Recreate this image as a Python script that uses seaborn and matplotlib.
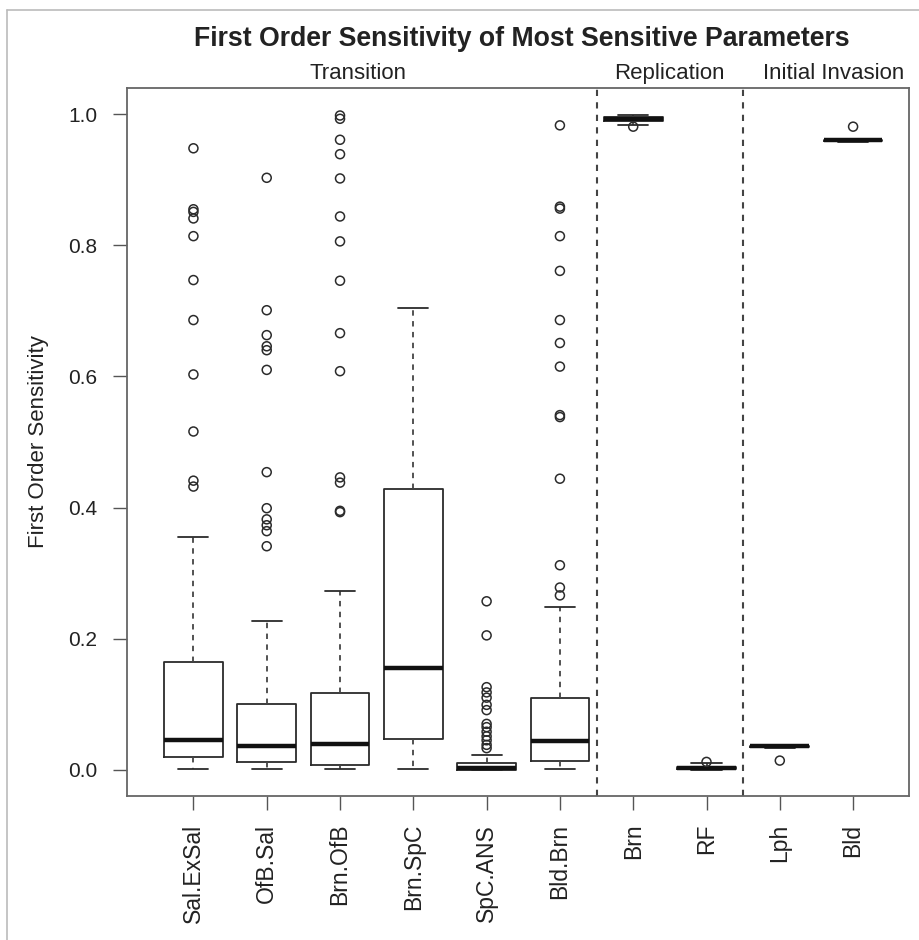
import pandas as pd
import matplotlib.pyplot as plt
import seaborn as sns
from matplotlib.lines import Line2D

# Parameters and box summary values
params = ["Sal.ExSal", "OfB.Sal", "Brn.OfB", "Brn.SpC", "SpC.ANS",
          "Bld.Brn", "Brn", "RF", "Lph", "Bld"]
q1 = [0.019, 0.012, 0.007, 0.047, 0.000, 0.014, 0.990, 0.001, 0.034, 0.959]
med = [0.045, 0.037, 0.040, 0.155, 0.002, 0.044, 0.993, 0.002, 0.0355, 0.960]
q3 = [0.164, 0.100, 0.117, 0.429, 0.010, 0.110, 0.995, 0.004, 0.037, 0.961]
whislo = [0.001, 0.001, 0.001, 0.001, 0.000, 0.001, 0.984, 0.000, 0.033, 0.958]
whishi = [0.355, 0.227, 0.272, 0.705, 0.022, 0.248, 0.999, 0.011, 0.038, 0.962]

# Outliers per parameter
out_sal_exsal = [0.948, 0.855, 0.851, 0.841, 0.814, 0.747, 0.686, 0.603,
                 0.516, 0.441, 0.432]
out_ofb_sal = [0.903, 0.701, 0.663, 0.646, 0.640, 0.610, 0.454, 0.399,
               0.382, 0.373, 0.364, 0.341]
out_brn_ofb = [0.998, 0.993, 0.961, 0.939, 0.902, 0.844, 0.806, 0.746,
               0.666, 0.608, 0.446, 0.438, 0.395, 0.393]
out_brn_spc = []
out_spc_ans = [0.257, 0.205, 0.126, 0.118, 0.110, 0.099, 0.091, 0.070,
               0.065, 0.058, 0.051, 0.045, 0.038, 0.033]
out_bld_brn = [0.983, 0.859, 0.856, 0.814, 0.761, 0.686, 0.651, 0.615,
               0.541, 0.538, 0.444, 0.312, 0.278, 0.266]
out_brn = [0.981]
out_rf = [0.012]
out_lph = [0.014]
out_bld = [0.981]

groups = ["Transition", "Replication", "Initial Invasion"]
group_x = [3.24, 7.49, 9.74]
dividers = [6.5, 8.5]

outliers = [out_sal_exsal, out_ofb_sal, out_brn_ofb, out_brn_spc, out_spc_ans,
            out_bld_brn, out_brn, out_rf, out_lph, out_bld]

rows = []
for i, (p, vals) in enumerate(zip(params, outliers)):
    for v in vals:
        rows.append({"param": p, "pos": i + 1, "value": v})
out_df = pd.DataFrame(rows)

stats = []
for i, p in enumerate(params):
    stats.append({"label": p, "q1": q1[i], "med": med[i], "q3": q3[i],
                  "whislo": whislo[i], "whishi": whishi[i], "fliers": []})

sns.set_theme(style="white")
plt.rcParams["font.family"] = ["Liberation Sans", "DejaVu Sans"]

fig = plt.figure(figsize=(9.19, 9.4), dpi=100)
ax = fig.add_axes([0.1379, 0.1532, 0.851, 0.7532])

line_col = "#2b2b2b"
ax.bxp(stats, positions=range(1, 11), widths=0.8, capwidths=0.41,
       showfliers=False,
       boxprops=dict(color=line_col, linewidth=1.3),
       medianprops=dict(color="#111111", linewidth=3.2, solid_capstyle="butt"),
       whiskerprops=dict(color="#444444", linewidth=1.3, linestyle=(0, (3, 3))),
       capprops=dict(color=line_col, linewidth=1.3))

sns.scatterplot(data=out_df, x="pos", y="value", ax=ax, marker="o",
                facecolor="none", edgecolor=line_col, s=42, linewidth=1.1,
                zorder=4)

for d in dividers:
    ax.axvline(d, color="#444444", linewidth=1.5, linestyle=(0, (3, 3)))

ax.set_xlim(0.09, 10.76)
ax.set_ylim(-0.04, 1.04)
ax.set_xticks(range(1, 11))
ax.set_xticklabels(params, rotation=90, fontsize=16.5, color="#222222")
ax.set_yticks([0.0, 0.2, 0.4, 0.6, 0.8, 1.0])
ax.set_yticklabels(["0.0", "0.2", "0.4", "0.6", "0.8", "1.0"],
                   fontsize=15, color="#222222")
ax.tick_params(axis="y", direction="out", length=10, width=1.0,
               color="#555555", pad=11, left=True)
ax.tick_params(axis="x", direction="out", length=10, width=1.0,
               color="#555555", pad=10, bottom=True)
ax.set_xlabel("")
ax.set_ylabel("First Order Sensitivity", fontsize=16, color="#222222")
ax.yaxis.set_label_coords(-0.099, 0.5)

for s in ax.spines.values():
    s.set_color("#666666")
    s.set_linewidth(1.3)

for g, gx in zip(groups, group_x):
    ax.text(gx, 1.006, g, transform=ax.get_xaxis_transform(), ha="center",
            va="bottom", fontsize=16, color="#222222")

fig.text(0.5675, 0.9585, "First Order Sensitivity of Most Sensitive Parameters",
         ha="center", va="center", fontsize=19.2, fontweight="bold",
         color="#222222")

# light frame around the picture
fig.add_artist(Line2D([7 / 919, 1], [1 - 10 / 940] * 2, color="#bbbbbb",
                      linewidth=1.2, transform=fig.transFigure))
fig.add_artist(Line2D([7 / 919] * 2, [0, 1 - 10 / 940], color="#bbbbbb",
                      linewidth=1.2, transform=fig.transFigure))

fig.savefig("out.png", dpi=100)
